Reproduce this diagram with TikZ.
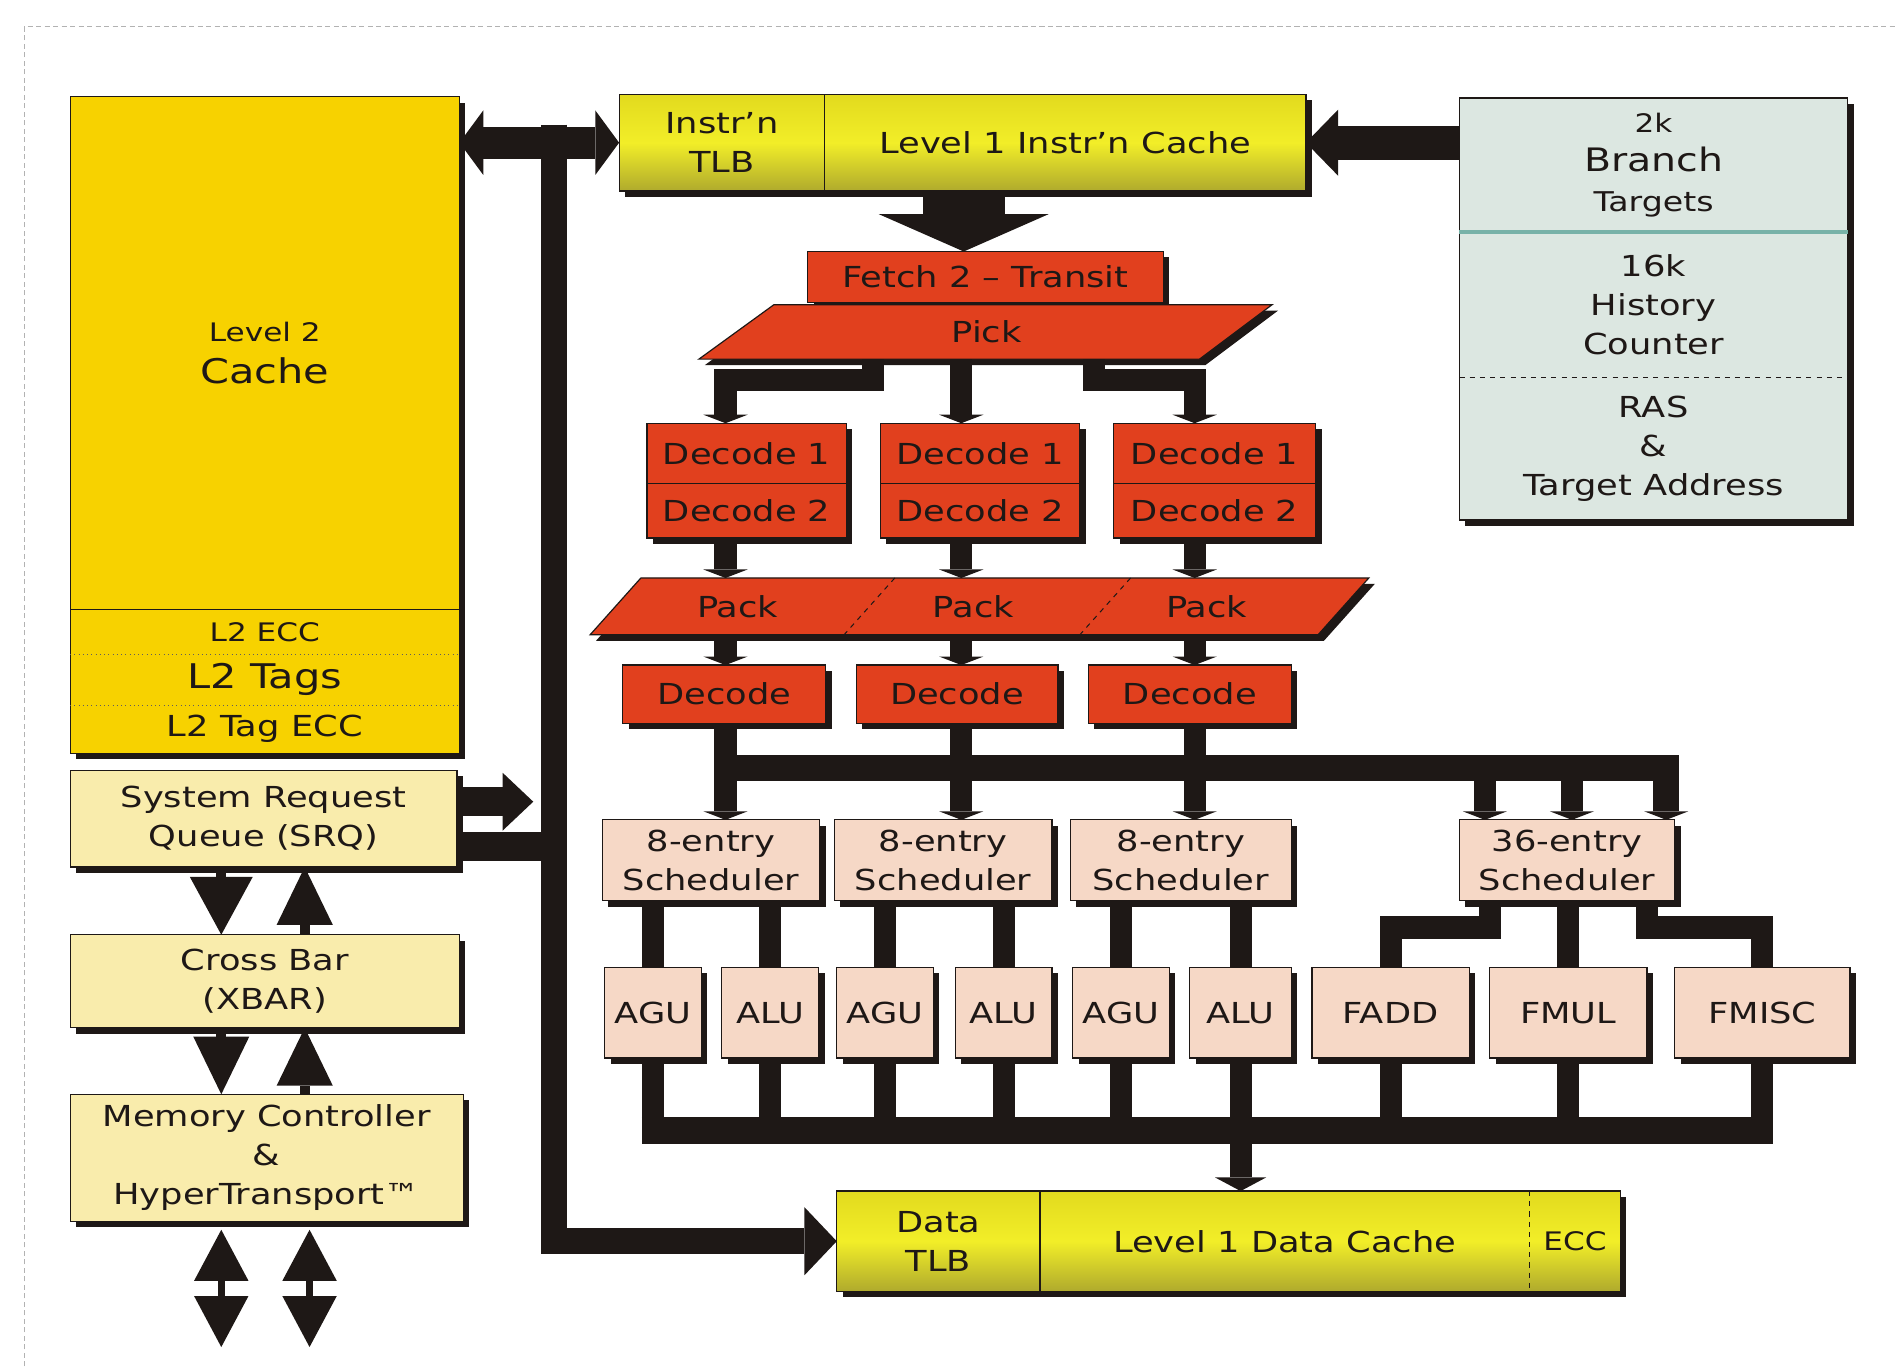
\documentclass[tikz,border=0pt]{standalone}
\usepackage{fontspec}
\setmainfont{DejaVu Sans}[FakeStretch=1.22]
\usetikzlibrary{arrows.meta,fit,shadows,calc}
\definecolor{ink}{RGB}{30,24,22}
\definecolor{ltwo}{RGB}{247,210,0}
\definecolor{sysy}{RGB}{249,236,172}
\definecolor{redb}{RGB}{225,64,30}
\definecolor{salm}{RGB}{246,216,198}
\definecolor{brgr}{RGB}{220,231,225}
\definecolor{lonet}{RGB}{226,218,30}
\definecolor{lonem}{RGB}{242,238,40}
\definecolor{loneb}{RGB}{175,170,45}
\definecolor{tealln}{RGB}{120,178,168}
\newcommand{\mybox}[5]{\node[#1, fit={#2 #3}] (#4) {}; \node (#4t) at (#4.center) {#5};}
\newcommand{\myfs}[1]{\fontsize{#1}{23}\selectfont}
\begin{document}
\begin{tikzpicture}[x=0.025cm, y=-0.025cm,
  font=\fontsize{17}{23}\selectfont,
  every node/.style={inner sep=0pt, outer sep=0pt, align=center, text=ink},
  shd/.style={drop shadow={shadow xshift=3.5pt, shadow yshift=-3.5pt, fill=ink, opacity=1}},
  edge/.style={draw=ink, line width=0.7pt},
  ybox/.style={shd, edge, fill=ltwo},
  sbox/.style={shd, edge, fill=sysy},
  rbox/.style={shd, edge, fill=redb},
  pbox/.style={shd, edge, fill=salm},
  gbox/.style={shd, edge, fill=brgr},
  lbox/.style={shd, edge, top color=lonet, bottom color=loneb, middle color=lonem},
  txt/.style={},
  wire/.style={draw=ink, line width=13pt},
  busl/.style={draw=ink, line width=15.5pt},
  tipS/.style={-{Triangle[length=5pt,width=26pt,line width=0pt]}},
]
\fill[white] (0,0) rectangle (1568,1130);
\useasboundingbox (0,0) rectangle (1568,1130);
\draw[black!30, dash pattern=on 3pt off 2pt, line width=0.8pt] (20,1130) -- (20,22) -- (1568,22);

% ---------- coordinates ----------
\coordinate (c0) at (797,0);
\coordinate (c1) at (600,0);
\coordinate (c2) at (795,0);
\coordinate (c3) at (988,0);
\coordinate (pL) at (722,0);
\coordinate (pR) at (905,0);
\coordinate (busy) at (0,635);
\coordinate (f0) at (591,0);
\coordinate (f1) at (1228,0);
\coordinate (f2) at (1300,0);
\coordinate (f3) at (1378,0);
\coordinate (fl) at (1232,0);
\coordinate (fr) at (1362,0);
\coordinate (by) at (0,935);
\coordinate (cl) at (183,0);
\coordinate (cr) at (252,0);
\coordinate (ioL) at (183,1114);
\coordinate (ioR) at (256,1114);
\coordinate (bustop) at (458,103);
\coordinate (srqtip) at (441,663);
\coordinate (srqup) at (378,663);
\coordinate (srqlow) at (378,700);

% ---------- left column ----------
\mybox{ybox}{(58,80)}{(380,623)}{l2}{}
\mybox{txt}{(58,80)}{(380,504)}{l2m}{{\myfs{15}Level 2}\\[2pt]{\myfs{20}Cache}}
\mybox{txt}{(58,504)}{(380,541)}{l2e}{\myfs{15}L2 ECC}
\mybox{txt}{(58,541)}{(380,583)}{l2t}{\myfs{20}L2 Tags}
\mybox{txt}{(58,583)}{(380,623)}{l2g}{\myfs{17}L2 Tag ECC}
\draw[ink, line width=0.8pt] (l2e.north west) -- (l2e.north east);
\draw[ink!70, line width=0.5pt, dotted] (l2t.north west) -- (l2t.north east);
\draw[ink!70, line width=0.5pt, dotted] (l2g.north west) -- (l2g.north east);

\mybox{sbox}{(58,637)}{(378,717)}{srq}{System Request\\Queue (SRQ)}
\mybox{sbox}{(58,773)}{(380,850)}{xbar}{Cross Bar\\(XBAR)}
\mybox{sbox}{(58,905)}{(383,1010)}{mc}{Memory Controller\\\&\\HyperTransport™}

% ---------- L1 instruction cache ----------
\mybox{lbox}{(512,78)}{(1080,158)}{l1i}{}
\mybox{txt}{(512,78)}{(682,158)}{itlb}{Instr’n\\TLB}
\mybox{txt}{(682,78)}{(1080,158)}{icache}{Level 1 Instr’n Cache}
\draw[ink, line width=0.8pt] (icache.north west) -- (icache.south west);

% ---------- branch prediction ----------
\mybox{gbox}{(1207,81)}{(1528,430)}{bp}{}
\mybox{txt}{(1207,81)}{(1528,192)}{bt}{{\myfs{15}2k}\\{\myfs{19}Branch}\\{\myfs{16}Targets}}
\mybox{txt}{(1207,192)}{(1528,312)}{hc}{16k\\History\\Counter}
\mybox{txt}{(1207,312)}{(1528,430)}{ras}{RAS\\\&\\Target Address}
\draw[tealln, line width=2pt] (hc.north west) -- (hc.north east);
\draw[ink, dashed, line width=0.8pt] (ras.north west) -- (ras.north east);

% ---------- fetch / pick ----------
\mybox{rbox}{(668,208)}{(962,250)}{fetch}{Fetch 2 – Transit}
\filldraw[shd, edge, fill=redb] (578,297) -- (640,252) -- (1052,252) -- (992,297) -- cycle;
\mybox{txt}{(640,252)}{(992,297)}{pick}{Pick}

% ---------- decode 1/2 ----------
\mybox{rbox}{(535,350)}{(700,400)}{d11}{Decode 1}
\mybox{rbox}{(535,400)}{(700,445)}{d12}{Decode 2}
\mybox{rbox}{(728,350)}{(893,400)}{d21}{Decode 1}
\mybox{rbox}{(728,400)}{(893,445)}{d22}{Decode 2}
\mybox{rbox}{(921,350)}{(1088,400)}{d31}{Decode 1}
\mybox{rbox}{(921,400)}{(1088,445)}{d32}{Decode 2}

% ---------- pack ----------
\filldraw[shd, edge, fill=redb] (488,525) -- (530,478) -- (1132,478) -- (1090,525) -- cycle;
\mybox{txt}{(530,478)}{(1090,525)}{pack}{}
\draw[ink, dashed, line width=0.6pt] (740,478) -- (698,525);
\draw[ink, dashed, line width=0.6pt] (935,478) -- (893,525);
\node (pk1) at (610,502) {Pack};
\node (pk2) at (805,502) {Pack};
\node (pk3) at (998,502) {Pack};

% ---------- decode ----------
\mybox{rbox}{(515,550)}{(683,598)}{e1}{Decode}
\mybox{rbox}{(708,550)}{(875,598)}{e2}{Decode}
\mybox{rbox}{(900,550)}{(1068,598)}{e3}{Decode}

% ---------- schedulers ----------
\mybox{pbox}{(498,678)}{(678,745)}{s1}{8-entry\\Scheduler}
\mybox{pbox}{(690,678)}{(870,745)}{s2}{8-entry\\Scheduler}
\mybox{pbox}{(885,678)}{(1068,745)}{s3}{8-entry\\Scheduler}
\mybox{pbox}{(1207,678)}{(1385,745)}{s4}{36-entry\\Scheduler}

% ---------- execution units ----------
\mybox{pbox}{(500,800)}{(580,875)}{u1}{AGU}
\mybox{pbox}{(597,800)}{(677,875)}{u2}{ALU}
\mybox{pbox}{(692,800)}{(772,875)}{u3}{AGU}
\mybox{pbox}{(790,800)}{(870,875)}{u4}{ALU}
\mybox{pbox}{(887,800)}{(967,875)}{u5}{AGU}
\mybox{pbox}{(984,800)}{(1068,875)}{u6}{ALU}
\mybox{pbox}{(1085,800)}{(1215,875)}{u7}{FADD}
\mybox{pbox}{(1232,800)}{(1362,875)}{u8}{FMUL}
\mybox{pbox}{(1385,800)}{(1530,875)}{u9}{FMISC}

% ---------- L1 data cache ----------
\mybox{lbox}{(692,985)}{(1340,1068)}{dc}{}
\mybox{txt}{(692,985)}{(860,1068)}{dtlb}{Data\\TLB}
\mybox{txt}{(860,985)}{(1265,1068)}{dcache}{Level 1 Data Cache}
\mybox{txt}{(1265,985)}{(1340,1068)}{ecc}{\myfs{15}ECC}
\draw[ink, line width=0.8pt] (dcache.north west) -- (dcache.south west);
\draw[ink, dashed, line width=0.7pt] (ecc.north west) -- (ecc.south west);

% ---------- connectors: left side ----------
\draw[ink, line width=19pt, {Triangle[length=14pt,width=38pt,line width=0pt]}-{Triangle[length=14pt,width=38pt,line width=0pt]}] (l2.east |- l1i.west) -- (l1i.west);
\draw[busl, -{Triangle[length=19pt,width=40pt,line width=0pt]}] (bustop) -- (bustop |- dc.west) -- (dc.west);
\draw[ink, line width=17pt, -{Triangle[length=18pt,width=34pt,line width=0pt]}] (srqup) -- (srqtip);
\draw[ink, line width=17pt] (srqlow) -- (srqlow -| bustop);

\draw[ink, line width=6pt, -{Triangle[length=34pt,width=37pt,line width=0pt]}] (srq.south -| cl) -- (xbar.north -| cl);
\draw[ink, line width=6pt, -{Triangle[length=34pt,width=33pt,line width=0pt]}] (xbar.north -| cr) -- (srq.south -| cr);
\draw[ink, line width=6pt, -{Triangle[length=34pt,width=33pt,line width=0pt]}] (xbar.south -| cl) -- (mc.north -| cl);
\draw[ink, line width=6pt, -{Triangle[length=34pt,width=33pt,line width=0pt]}] (mc.north -| cr) -- (xbar.south -| cr);

\draw[ink, line width=4pt, shorten <=5pt, {Triangle[length=30pt,width=32pt,line width=0pt]}-{Triangle[length=30pt,width=32pt,line width=0pt]}] (mc.south -| ioL) -- (ioL);
\draw[ink, line width=4pt, shorten <=5pt, {Triangle[length=30pt,width=32pt,line width=0pt]}-{Triangle[length=30pt,width=32pt,line width=0pt]}] (mc.south -| ioR) -- (ioR);

% ---------- connectors: front end ----------
\draw[ink, line width=20pt, -{Triangle[length=19pt,width=39pt,line width=0pt]}] (bp.west |- l1i.east) -- (l1i.east);
\draw[ink, line width=48pt, -{Triangle[length=22pt,width=100pt,line width=0pt]}] (l1i.south -| c0) -- (fetch.north -| c0);

\draw[wire, tipS] (pL |- pick.south) -- ++(0,17) -| (d11.north -| c1);
\draw[wire, tipS] (pick.south -| c2) -- (d21.north -| c2);
\draw[wire, tipS] (pR |- pick.south) -- ++(0,17) -| (d31.north -| c3);

\draw[wire, tipS] (d12.south -| c1) -- (pack.north -| c1);
\draw[wire, tipS] (d22.south -| c2) -- (pack.north -| c2);
\draw[wire, tipS] (d32.south -| c3) -- (pack.north -| c3);

\draw[wire, tipS] (pack.south -| c1) -- (e1.north -| c1);
\draw[wire, tipS] (pack.south -| c2) -- (e2.north -| c2);
\draw[wire, tipS] (pack.south -| c3) -- (e3.north -| c3);

% ---------- connectors: dispatch ----------
\draw[wire, tipS] (e1.south -| c1) -- (s1.north -| c1);
\draw[wire, tipS] (e2.south -| c2) -- (s2.north -| c2);
\draw[wire, tipS] (e3.south -| c3) -- (s3.north -| c3);
\draw[busl, tipS] (f0 |- busy) -- (f3 |- busy) -- (s4.north -| f3);
\draw[wire, tipS] (f1 |- busy) -- (s4.north -| f1);
\draw[wire, tipS] (f2 |- busy) -- (s4.north -| f2);

% ---------- connectors: issue ----------
\draw[wire] (s1.south -| u1.north) -- (u1.north);
\draw[wire] (s1.south -| u2.north) -- (u2.north);
\draw[wire] (s2.south -| u3.north) -- (u3.north);
\draw[wire] (s2.south -| u4.north) -- (u4.north);
\draw[wire] (s3.south -| u5.north) -- (u5.north);
\draw[wire] (s3.south -| u6.north) -- (u6.north);
\draw[wire] (s4.south -| u8.north) -- (u8.north);
\draw[wire] (s4.south -| fl) -- ++(0,22) -| (u7.north);
\draw[wire] (s4.south -| fr) -- ++(0,22) -| (u9.north);

% ---------- connectors: results ----------
\draw[wire] (u1.south) -- (u1.south |- by);
\draw[wire] (u2.south) -- (u2.south |- by);
\draw[wire] (u3.south) -- (u3.south |- by);
\draw[wire] (u4.south) -- (u4.south |- by);
\draw[wire] (u5.south) -- (u5.south |- by);
\draw[wire] (u6.south) -- (u6.south |- by);
\draw[wire] (u7.south) -- (u7.south |- by);
\draw[wire] (u8.south) -- (u8.south |- by);
\draw[wire] (u9.south) -- (u9.south |- by);
\draw[busl, shorten <=-6.5pt, shorten >=-6.5pt] (u1.south |- by) -- (u9.south |- by);
\draw[wire, -{Triangle[length=8pt,width=30pt,line width=0pt]}] (u6.south |- by) -- (dc.north -| u6.south);
\end{tikzpicture}
\end{document}
